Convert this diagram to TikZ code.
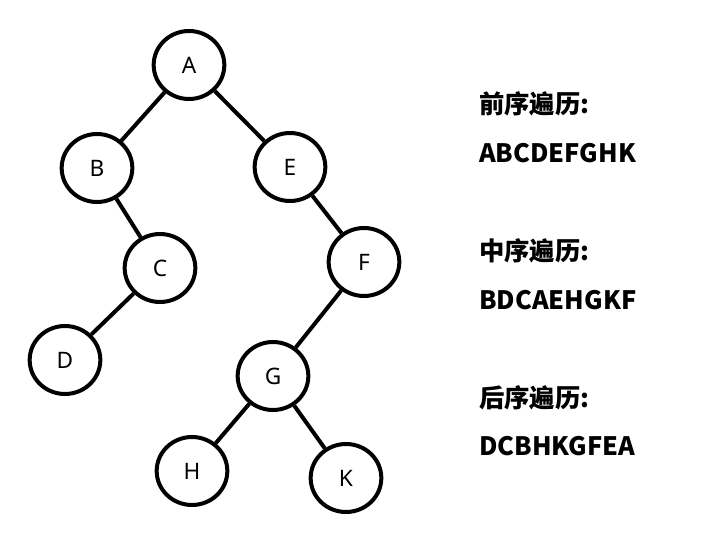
\documentclass[tikz,border=0pt]{standalone}
\usepackage{fontspec}
\setmainfont{Noto Sans}
\newfontfamily\cjk{Noto Sans CJK SC}
\begin{document}
\begin{tikzpicture}[x=0.75pt,y=-0.75pt,
  tn/.style={draw,line width=3pt,ellipse,minimum width=53pt,minimum height=51pt,inner sep=0pt,font=\fontsize{17}{20}\selectfont},
  ed/.style={line width=3pt},
  lab/.style={anchor=west,inner sep=0pt,font=\cjk\bfseries\fontsize{19}{22}\selectfont}]
\usetikzlibrary{shapes.geometric}
\useasboundingbox (0,0) rectangle (701,553);
\node[tn] (A) at (189,65) {A};
\node[tn] (B) at (97,168) {B};
\node[tn] (E) at (290,167) {E};
\node[tn] (C) at (160,268) {C};
\node[tn] (F) at (364,262) {F};
\node[tn] (D) at (65,360) {D};
\node[tn] (G) at (273,376) {G};
\node[tn] (H) at (192,471) {H};
\node[tn] (K) at (346,478) {K};
\draw[ed] (A)--(B); \draw[ed] (A)--(E);
\draw[ed] (B)--(C); \draw[ed] (C)--(D);
\draw[ed] (E)--(F); \draw[ed] (F)--(G);
\draw[ed] (G)--(H); \draw[ed] (G)--(K);
\node[lab] (t1) at (479,104) {前序遍历:};
\node[lab] (s1) at (479,153) {ABCDEFGHK};
\node[lab] (t2) at (479,251) {中序遍历:};
\node[lab] (s2) at (479,300) {BDCAEHGKF};
\node[lab] (t3) at (479,398) {后序遍历:};
\node[lab] (s3) at (479,446) {DCBHKGFEA};
\end{tikzpicture}
\end{document}
